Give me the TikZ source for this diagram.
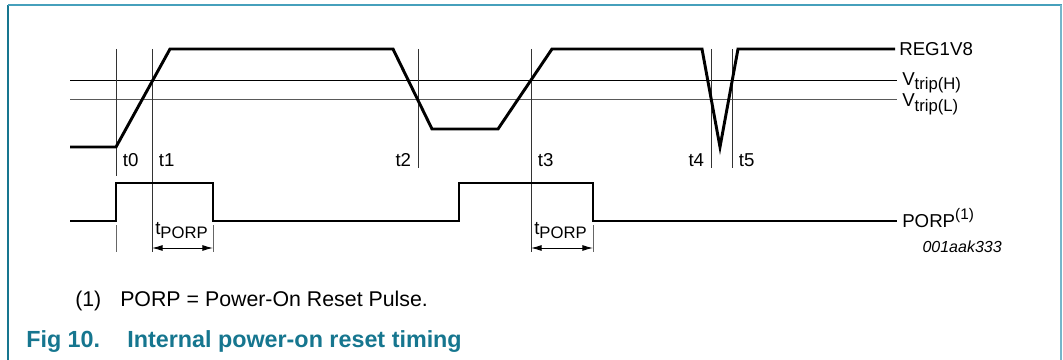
\documentclass[tikz,border=0pt]{standalone}
\usepackage{fontspec}
\setmainfont{Liberation Sans}
\usetikzlibrary{calc, arrows.meta}
\definecolor{figteal}{RGB}{22,118,143}
\definecolor{frametop}{RGB}{70,160,188}
\definecolor{frameside}{RGB}{118,182,202}
\newcommand{\lowtxt}[1]{\raisebox{-0.5ex}{\fontsize{12.5}{13}\selectfont #1}}
\newcommand{\hightxt}[1]{\raisebox{0.75ex}{\fontsize{11.5}{12}\selectfont #1}}

\begin{document}
\begin{tikzpicture}[x=0.75pt,y=-0.75pt,
    wave/.style={line width=2.2pt, line join=miter},
    level/.style={line width=0.7pt},
    timeline/.style={line width=0.6pt, black!80},
    tickline/.style={line width=0.6pt, black!60},
    lbl/.style={font=\fontsize{14}{16}\selectfont, inner sep=0pt},
    dim/.style={line width=0.7pt, {Latex[length=8pt,width=4.5pt]}-{Latex[length=8pt,width=4.5pt]}}]

    \useasboundingbox (0,0) rectangle (1063,360);

    % frame
    \draw[figteal, line width=1.5pt] (8,5) -- (8,360);
    \draw[frametop, line width=1.5pt] (8,5) -- (1062,5);
    \draw[frameside, line width=2pt] (1061,5) -- (1061,360);

    % trip levels
    \draw[level] (70,80) -- (897,80);
    \draw[level, black!65] (70,99) -- (897,99);
    \node[lbl, anchor=base west] (vtriph) at (902,85) {V\lowtxt{trip(H)}};
    \node[lbl, anchor=base west] (vtripl) at (902,107) {V\lowtxt{trip(L)}};

    % time marks
    \foreach \name/\x/\bot/\side in {t0/116/176/right, t1/152/252/right, t2/418/168/left,
                                     t3/531/252/right, t4/711/168/left, t5/732/168/right}{
        \draw[timeline] (\x,49) -- (\x,\bot);
        \node[lbl, \side=5pt] (\name) at (\x,160) {\name};
    }
    \foreach \x in {116,213,593}{
        \draw[tickline] (\x,225) -- (\x,252);
    }

    % REG1V8
    \draw[wave] (70,147) -- (116,147) -- (170,49) -- (393,49) -- (432,129) -- (498,129)
        -- (552,49) -- (702,49) -- (720,147) -- (738,49) -- (895,49);
    \node[lbl, anchor=base west] (reg) at (899,56) {REG1V8};

    % PORP
    \draw[wave] (70,221) -- (116,221) -- (116,183) -- (213,183) -- (213,221) -- (459,221)
        -- (459,183) -- (593,183) -- (593,221) -- (897,221);
    \node[lbl, anchor=base west] (porp) at (902,227) {PORP\hightxt{(1)}};

    % tPORP
    \coordinate (pa) at (152,248);
    \coordinate (pb) at (213,248);
    \coordinate (qa) at (531,248);
    \coordinate (qb) at (593,248);
    \draw[dim] (pa) -- (pb);
    \draw[dim] (qa) -- (qb);
    \node[lbl, anchor=base west] (tporpa) at (155,234) {t\lowtxt{PORP}};
    \node[lbl, anchor=base west] (tporpb) at (534,234) {t\lowtxt{PORP}};

    \node[lbl, font=\fontsize{12}{14}\selectfont\itshape, anchor=base east] (code) at (1002,252) {001aak333};

    % notes and caption
    \node[anchor=base west, inner sep=0pt, font=\fontsize{16}{18}\selectfont] (fnum) at (75,306) {(1)};
    \node[anchor=base west, inner sep=0pt, font=\fontsize{16}{18}\selectfont] (fnote) at (120,306) {PORP = Power-On Reset Pulse.};
    \node[anchor=base west, inner sep=0pt, font=\fontsize{17.5}{20}\selectfont\bfseries, text=figteal] (fig) at (26,347) {Fig 10.};
    \node[anchor=base west, inner sep=0pt, font=\fontsize{17.5}{20}\selectfont\bfseries, text=figteal] (title) at (127,347) {Internal power-on reset timing};
\end{tikzpicture}
\end{document}
